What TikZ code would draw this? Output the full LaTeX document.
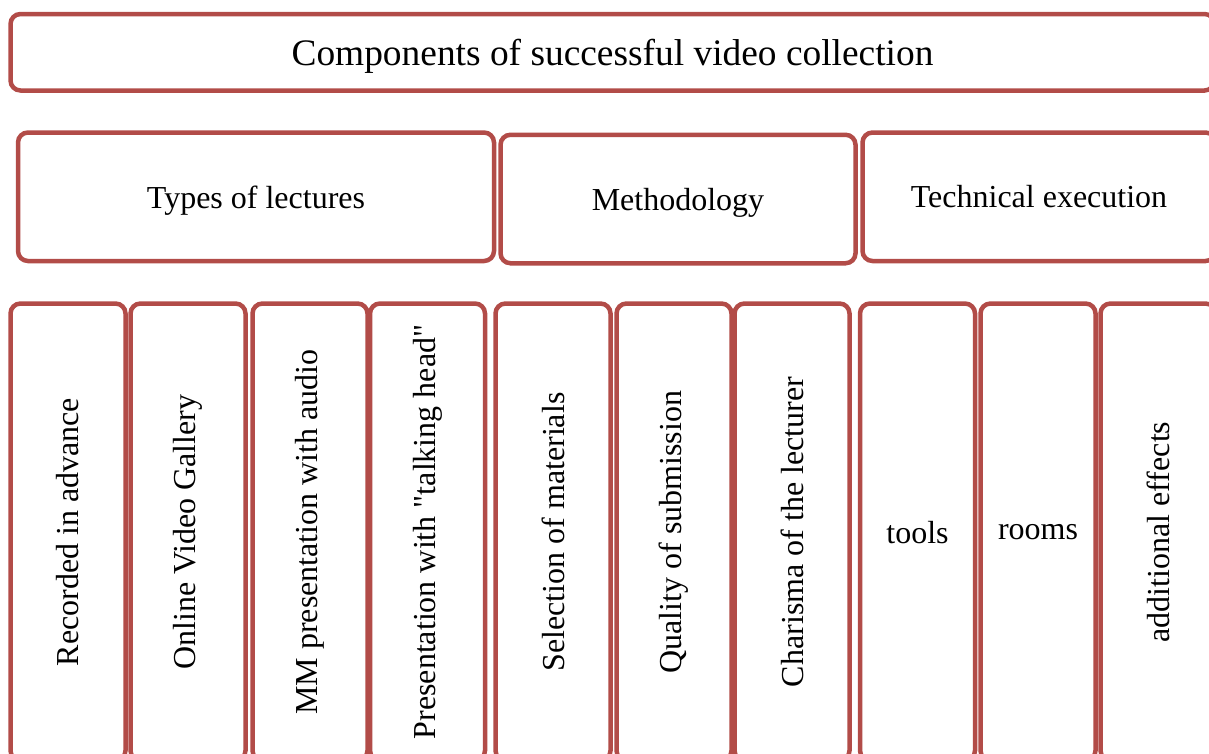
\documentclass[tikz,border=0pt]{standalone}
\usepackage{fontspec}
\setmainfont{Liberation Serif}
\usepackage{tikz}
\definecolor{boxred}{RGB}{178,76,72}
\tikzset{box/.style={draw=boxred, line width=4.5pt, fill=white, rounded corners=10pt, font=\fontsize{32}{38}\selectfont, inner sep=0pt, text depth=0pt},
  head/.style={box, minimum width=476pt, minimum height=128.5pt},
  col/.style={box, minimum width=115pt, minimum height=457pt}}

\begin{document}
\begin{tikzpicture}[x=1pt, y=-1pt]
    \useasboundingbox (0,0) rectangle (1209,753);
    \clip (0,0) rectangle (1209,753);
    \node[box, minimum width=1204pt, minimum height=76.5pt, font=\fontsize{37.4}{44}\selectfont] (top) at (612.5,52.25) {Components of successful video collection};
    \node[head] (types) at (256,196.75) {Types of lectures};
    \node[head, minimum width=355pt] (meth) at (678,199) {Methodology};
    \node[head, minimum width=353pt] (tech) at (1039,196.75) {Technical execution};
    \node[col] (c1) at (68,532) {\rotatebox{90}{Recorded in advance}};
    \node[col] (c2) at (188,532) {\rotatebox{90}{Online Video Gallery}};
    \node[col] (c3) at (310,532) {\rotatebox{90}{MM presentation with audio}};
    \node[col] (c4) at (427.5,532) {\rotatebox{90}{Presentation with \textquotedbl talking head\textquotedbl}};
    \node[col] (c5) at (553,532) {\rotatebox{90}{Selection of materials}};
    \node[col] (c6) at (674,532) {\rotatebox{90}{Quality of submission}};
    \node[col] (c7) at (792,532) {\rotatebox{90}{Charisma of the lecturer}};
    \node[col] (c8) at (917.5,532) {tools};
    \node[col] (c9) at (1038,532) {rooms};
    \node[col] (c10) at (1158,532) {\rotatebox{90}{additional effects}};
\end{tikzpicture}
\end{document}
